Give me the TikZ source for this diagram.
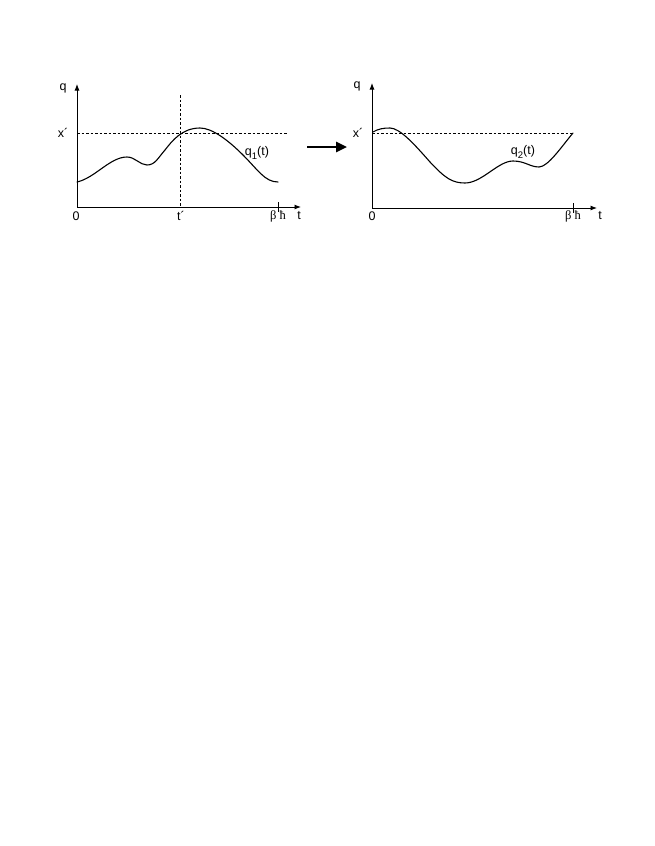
\documentclass[tikz,border=0pt]{standalone}
\usepackage{fontspec}
\setmainfont{Liberation Sans}
\newfontfamily\serifgr{Liberation Serif}
\usetikzlibrary{arrows.meta,calc}
\begin{document}
\begin{tikzpicture}[x=1pt,y=-1pt,
  axis/.style={line width=0.9pt,-{Latex[length=6.5pt,width=5pt]}},
  curve/.style={line width=1.1pt,line cap=round},
  dashln/.style={line width=0.9pt,dash pattern=on 2.5pt off 2pt},
  lbl/.style={inner sep=0pt,font=\fontsize{12.5}{14}\selectfont},
  bigarrow/.style={line width=2.6pt,-{Triangle[length=11pt,width=10pt]}}]
\useasboundingbox (0,0) rectangle (654,846);
% ---------- left panel ----------
\coordinate (LO) at (77,207);
\coordinate (LY) at (77,84);
\coordinate (LX) at (301,207);
\coordinate (LT) at (278,207);
\draw[axis] (LO) -- (LY);
\draw[axis] (LO) -- (LX);
\draw[line width=0.9pt] ($(LT)+(0,-5)$) -- ($(LT)+(0,5)$);
\coordinate (LDa) at (77,133);
\coordinate (LDb) at (288,133);
\draw[dashln] (LDa) -- (LDb);
\coordinate (LVa) at (180,95);
\coordinate (LVb) at (180,207);
\draw[dashln] (LVa) -- (LVb);
\draw[curve] (77,182) .. controls (95,178) and (110,157) .. (127,157)
  .. controls (135,157) and (140,165) .. (147,165)
  .. controls (155,165) and (158,158) .. (165,150)
  .. controls (172,141) and (182,128) .. (200,128)
  .. controls (212,128) and (228,140) .. (243,155)
  .. controls (258,170) and (265,182) .. (278,182);
\node[lbl] (lq) at (63,88) {q};
\node[lbl] (lx) at (63,133) {x´};
\node[lbl] (l0) at (76,216) {0};
\node[lbl] (lt1) at (181,216) {t´};
\node[lbl] (lbh) at (278,216) {\serifgr β ħ};
\node[lbl] (lt) at (299,216) {t};
\node[lbl] (lq1) at (257,153) {q\raisebox{-0.5ex}{\fontsize{9.5}{10}\selectfont 1}(t)};
% ---------- arrow ----------
\coordinate (Aa) at (307,147);
\coordinate (Ab) at (347,147);
\draw[bigarrow] (Aa) -- (Ab);
% ---------- right panel ----------
\coordinate (RO) at (372,208);
\coordinate (RY) at (372,83);
\coordinate (RX) at (597,208);
\coordinate (RT) at (573,208);
\draw[axis] (RO) -- (RY);
\draw[axis] (RO) -- (RX);
\draw[line width=0.9pt] ($(RT)+(0,-5)$) -- ($(RT)+(0,5)$);
\coordinate (RDa) at (372,133);
\coordinate (RDb) at (573,133);
\draw[dashln] (RDa) -- (RDb);
\draw[curve] (373,132) .. controls (378,129) and (383,128) .. (390,128)
  .. controls (400,128) and (415,145) .. (430,162)
  .. controls (445,178) and (452,183) .. (465,183)
  .. controls (482,183) and (498,161) .. (513,161)
  .. controls (525,161) and (530,167) .. (539,167)
  .. controls (548,167) and (562,146) .. (573,133);
\node[lbl] (rq) at (357,86) {q};
\node[lbl] (rx) at (358,133) {x´};
\node[lbl] (r0) at (372,216) {0};
\node[lbl] (rbh) at (573,216) {\serifgr β ħ};
\node[lbl] (rt) at (600,216) {t};
\node[lbl] (rq2) at (523,152) {q\raisebox{-0.5ex}{\fontsize{9.5}{10}\selectfont 2}(t)};
\end{tikzpicture}
\end{document}
